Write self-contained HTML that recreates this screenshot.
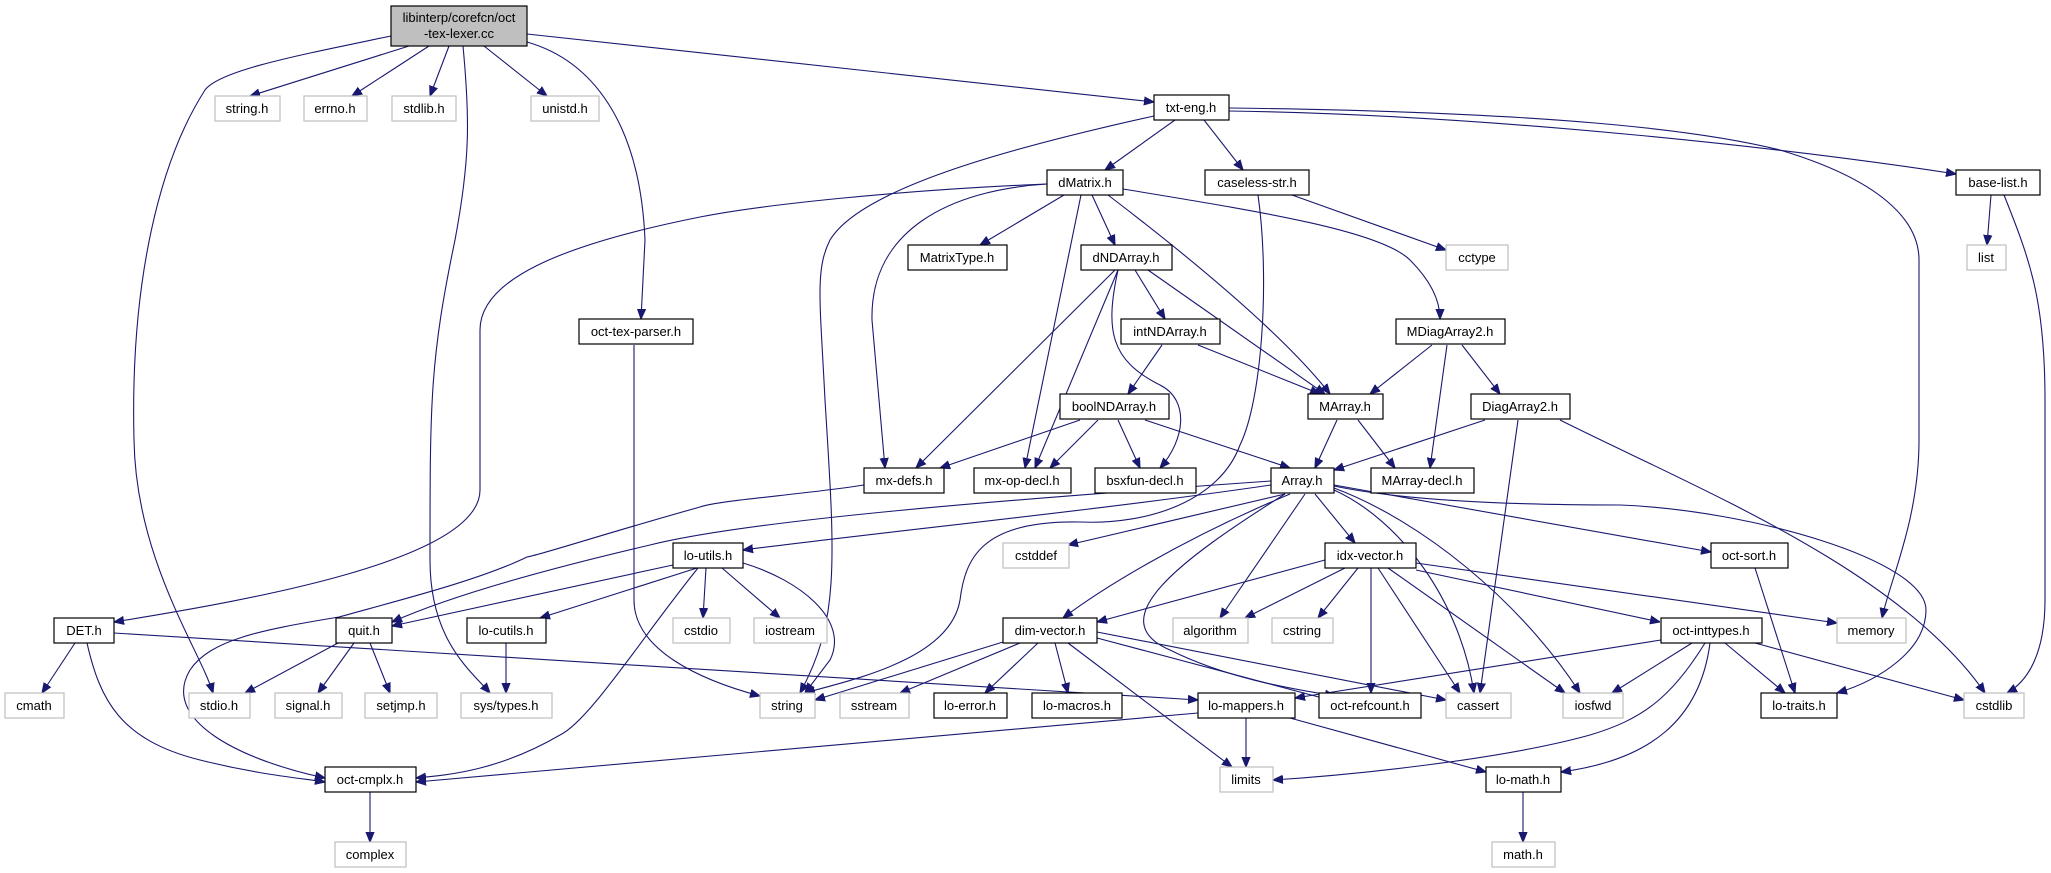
<!DOCTYPE html>
<html><head><meta charset="utf-8"><style>
html,body{margin:0;padding:0;background:#fff;}
svg{display:block;}
text{font-family:"Liberation Sans",sans-serif;font-size:13px;fill:#000;text-anchor:middle;}
.n{fill:#fff;stroke:#000;stroke-width:1.2;}
.e{fill:#fff;stroke:#bfbfbf;stroke-width:1.2;}
path{fill:none;stroke:#191970;stroke-width:1.1;}
</style></head><body>
<svg width="2051" height="873" viewBox="0 0 2051 873" xmlns="http://www.w3.org/2000/svg">
<defs><marker id="a" viewBox="0 0 10 10" refX="10" refY="5" markerWidth="10" markerHeight="10" markerUnits="userSpaceOnUse" orient="auto"><path d="M0,1 L10,5 L0,9 z" style="fill:#191970;stroke:#191970"/></marker></defs>
<g marker-end="url(#a)">
<path d="M409,46 L250,96"/>
<path d="M429,46 L352,96"/>
<path d="M449,46 L430,96"/>
<path d="M484,46 L547,96"/>
<path d="M391,36 C300,55 220,70 205,90 C160,160 130,280 134,440 C136,560 200,650 213,693"/>
<path d="M463,46 C470,120 470,160 455,240 C430,360 430,400 430,560 C430,640 470,670 490,693"/>
<path d="M527,42 C590,60 640,120 645,240 L641,319"/>
<path d="M527,34 L1154,102"/>
<path d="M1175,120 L1105,170"/>
<path d="M1204,120 L1243,170"/>
<path d="M1229,111 C1500,115 1800,150 1956,174"/>
<path d="M1229,108 C1550,112 1700,130 1780,150 C1880,180 1919,220 1919,260 L1919,440 C1919,520 1890,580 1882,618"/>
<path d="M1154,116 C1000,150 860,190 830,240 C815,270 820,300 825,400 C835,560 840,620 800,693"/>
<path d="M1064,195 L980,245"/>
<path d="M1092,195 L1115,245"/>
<path d="M1108,195 C1180,250 1280,330 1330,394"/>
<path d="M1123,189 C1250,210 1380,230 1410,260 C1430,280 1440,300 1440,319"/>
<path d="M1047,184 C950,190 870,230 872,320 L885,468"/>
<path d="M1081,195 L1025,468"/>
<path d="M1047,184 C900,190 760,205 700,217 C560,245 480,280 480,330 L480,490 C480,560 250,600 114,622"/>
<path d="M1292,195 L1446,250"/>
<path d="M1258,195 C1270,280 1262,400 1240,445 C1220,500 1150,525 1080,522 C980,520 965,560 960,600 C950,660 850,680 805,693"/>
<path d="M1991,195 L1987,245"/>
<path d="M2004,195 C2030,260 2045,300 2045,400 L2045,600 C2045,650 2030,680 2007,693"/>
<path d="M1135,270 L1165,319"/>
<path d="M1148,270 C1220,320 1290,370 1325,394"/>
<path d="M1115,270 L916,468"/>
<path d="M1118,270 L1035,468"/>
<path d="M1118,270 C1105,330 1110,360 1160,385 C1190,400 1185,440 1160,468"/>
<path d="M1162,345 L1128,394"/>
<path d="M1198,345 L1320,394"/>
<path d="M1432,345 L1370,394"/>
<path d="M1447,345 L1430,468"/>
<path d="M1462,345 L1500,394"/>
<path d="M1080,420 L940,468"/>
<path d="M1098,420 L1050,468"/>
<path d="M1118,420 L1140,468"/>
<path d="M1145,420 L1290,468"/>
<path d="M1337,420 L1315,468"/>
<path d="M1358,420 L1395,468"/>
<path d="M1485,420 L1334,470"/>
<path d="M1518,420 L1480,693"/>
<path d="M1560,420 C1700,490 1900,570 1985,693"/>
<path d="M864,485 C800,495 720,500 700,507 C600,535 540,555 527,557 C480,580 400,600 339,617 C260,630 210,640 190,670 C160,720 240,760 325,778"/>
<path d="M1271,485 C1100,510 900,530 743,550"/>
<path d="M1271,481 C1000,500 750,520 650,545 C500,580 430,605 392,622"/>
<path d="M1285,494 L1068,545"/>
<path d="M1290,494 C1180,540 1100,590 1063,618"/>
<path d="M1305,494 L1220,618"/>
<path d="M1315,494 L1355,543"/>
<path d="M1285,494 C1180,560 1100,620 1170,650 C1230,680 1300,690 1335,696"/>
<path d="M1334,490 C1400,520 1460,600 1474,693"/>
<path d="M1334,488 C1420,520 1520,600 1580,693"/>
<path d="M1334,485 L1711,552"/>
<path d="M1334,486 C1400,500 1500,505 1620,505 C1750,510 1926,560 1926,610 C1926,650 1880,680 1837,693"/>
<path d="M673,565 L392,626"/>
<path d="M697,568 L540,618"/>
<path d="M706,568 L703,618"/>
<path d="M722,568 L780,618"/>
<path d="M743,563 C800,580 850,620 830,660 L805,693"/>
<path d="M698,568 C640,640 590,720 560,735 C500,770 450,775 416,778"/>
<path d="M338,643 L245,693"/>
<path d="M354,643 L318,693"/>
<path d="M370,643 L390,693"/>
<path d="M506,643 L506,693"/>
<path d="M75,643 L42,693"/>
<path d="M87,643 C100,700 120,740 200,760 C260,775 300,778 325,782"/>
<path d="M114,633 L1198,700"/>
<path d="M370,792 L370,842"/>
<path d="M634,345 L634,600 C634,650 700,680 760,696"/>
<path d="M1325,560 L1097,622"/>
<path d="M1345,568 L1245,618"/>
<path d="M1358,568 L1318,618"/>
<path d="M1371,568 L1371,693"/>
<path d="M1378,568 L1460,693"/>
<path d="M1388,568 L1565,693"/>
<path d="M1416,570 L1660,622"/>
<path d="M1416,563 L1837,623"/>
<path d="M1003,642 L815,700"/>
<path d="M1020,643 L900,693"/>
<path d="M1038,643 L985,693"/>
<path d="M1055,643 L1068,693"/>
<path d="M1068,643 L1232,767"/>
<path d="M1097,638 L1330,700"/>
<path d="M1097,632 L1446,700"/>
<path d="M1246,718 L1246,767"/>
<path d="M1290,718 L1486,772"/>
<path d="M1198,713 L416,782"/>
<path d="M1661,640 L1295,698"/>
<path d="M1692,643 L1612,693"/>
<path d="M1725,643 L1785,693"/>
<path d="M1755,643 L1964,700"/>
<path d="M1705,643 C1670,700 1640,720 1590,735 C1500,760 1350,775 1273,780"/>
<path d="M1710,643 C1700,720 1650,760 1561,772"/>
<path d="M1755,568 L1795,693"/>
<path d="M1523,792 L1523,842"/>
</g>
<g>
<rect x="391" y="6" width="136" height="40" style="fill:#bfbfbf;stroke:#000;stroke-width:1.2"/>
<text x="459" y="22">libinterp/corefcn/oct</text><text x="459" y="38">-tex-lexer.cc</text>
</g>
<g id="nodes">
<rect class="e" x="215" y="96" width="65" height="25"/><text x="247" y="113">string.h</text>
<rect class="e" x="304" y="96" width="63" height="25"/><text x="335" y="113">errno.h</text>
<rect class="e" x="392" y="96" width="64" height="25"/><text x="424" y="113">stdlib.h</text>
<rect class="e" x="531" y="96" width="68" height="25"/><text x="565" y="113">unistd.h</text>
<rect class="n" x="1154" y="95" width="75" height="25"/><text x="1191" y="112">txt-eng.h</text>
<rect class="n" x="1047" y="170" width="76" height="25"/><text x="1085" y="187">dMatrix.h</text>
<rect class="n" x="1205" y="170" width="104" height="25"/><text x="1257" y="187">caseless-str.h</text>
<rect class="n" x="1956" y="170" width="84" height="25"/><text x="1998" y="187">base-list.h</text>
<rect class="n" x="908" y="245" width="99" height="25"/><text x="957" y="262">MatrixType.h</text>
<rect class="n" x="1081" y="245" width="91" height="25"/><text x="1126" y="262">dNDArray.h</text>
<rect class="e" x="1446" y="245" width="62" height="25"/><text x="1477" y="262">cctype</text>
<rect class="e" x="1967" y="245" width="39" height="25"/><text x="1986" y="262">list</text>
<rect class="n" x="579" y="319" width="114" height="25"/><text x="636" y="336">oct-tex-parser.h</text>
<rect class="n" x="1121" y="319" width="99" height="25"/><text x="1170" y="336">intNDArray.h</text>
<rect class="n" x="1396" y="319" width="109" height="25"/><text x="1450" y="336">MDiagArray2.h</text>
<rect class="n" x="1060" y="394" width="109" height="25"/><text x="1114" y="411">boolNDArray.h</text>
<rect class="n" x="1308" y="394" width="75" height="25"/><text x="1345" y="411">MArray.h</text>
<rect class="n" x="1471" y="394" width="99" height="25"/><text x="1520" y="411">DiagArray2.h</text>
<rect class="n" x="864" y="468" width="80" height="25"/><text x="904" y="485">mx-defs.h</text>
<rect class="n" x="974" y="468" width="97" height="25"/><text x="1022" y="485">mx-op-decl.h</text>
<rect class="n" x="1095" y="468" width="101" height="25"/><text x="1145" y="485">bsxfun-decl.h</text>
<rect class="n" x="1271" y="468" width="63" height="25"/><text x="1302" y="485">Array.h</text>
<rect class="n" x="1371" y="468" width="103" height="25"/><text x="1422" y="485">MArray-decl.h</text>
<rect class="n" x="673" y="543" width="70" height="25"/><text x="708" y="560">lo-utils.h</text>
<rect class="e" x="1003" y="543" width="66" height="25"/><text x="1036" y="560">cstddef</text>
<rect class="n" x="1325" y="543" width="91" height="25"/><text x="1370" y="560">idx-vector.h</text>
<rect class="n" x="1711" y="543" width="77" height="25"/><text x="1749" y="560">oct-sort.h</text>
<rect class="n" x="54" y="618" width="60" height="25"/><text x="84" y="635">DET.h</text>
<rect class="n" x="336" y="618" width="56" height="25"/><text x="364" y="635">quit.h</text>
<rect class="n" x="467" y="618" width="79" height="25"/><text x="506" y="635">lo-cutils.h</text>
<rect class="e" x="673" y="618" width="57" height="25"/><text x="701" y="635">cstdio</text>
<rect class="e" x="754" y="618" width="73" height="25"/><text x="790" y="635">iostream</text>
<rect class="n" x="1003" y="618" width="94" height="25"/><text x="1050" y="635">dim-vector.h</text>
<rect class="e" x="1173" y="618" width="75" height="25"/><text x="1210" y="635">algorithm</text>
<rect class="e" x="1272" y="618" width="61" height="25"/><text x="1302" y="635">cstring</text>
<rect class="n" x="1661" y="618" width="101" height="25"/><text x="1711" y="635">oct-inttypes.h</text>
<rect class="e" x="1837" y="618" width="69" height="25"/><text x="1871" y="635">memory</text>
<rect class="e" x="5" y="693" width="59" height="25"/><text x="34" y="710">cmath</text>
<rect class="e" x="189" y="693" width="61" height="25"/><text x="219" y="710">stdio.h</text>
<rect class="e" x="275" y="693" width="67" height="25"/><text x="308" y="710">signal.h</text>
<rect class="e" x="365" y="693" width="72" height="25"/><text x="401" y="710">setjmp.h</text>
<rect class="e" x="461" y="693" width="91" height="25"/><text x="506" y="710">sys/types.h</text>
<rect class="e" x="760" y="693" width="55" height="25"/><text x="787" y="710">string</text>
<rect class="e" x="840" y="693" width="69" height="25"/><text x="874" y="710">sstream</text>
<rect class="n" x="934" y="693" width="73" height="25"/><text x="970" y="710">lo-error.h</text>
<rect class="n" x="1032" y="693" width="90" height="25"/><text x="1077" y="710">lo-macros.h</text>
<rect class="n" x="1198" y="693" width="97" height="25"/><text x="1246" y="710">lo-mappers.h</text>
<rect class="n" x="1319" y="693" width="102" height="25"/><text x="1370" y="710">oct-refcount.h</text>
<rect class="e" x="1446" y="693" width="65" height="25"/><text x="1478" y="710">cassert</text>
<rect class="e" x="1563" y="693" width="60" height="25"/><text x="1593" y="710">iosfwd</text>
<rect class="n" x="1761" y="693" width="76" height="25"/><text x="1799" y="710">lo-traits.h</text>
<rect class="e" x="1964" y="693" width="60" height="25"/><text x="1994" y="710">cstdlib</text>
<rect class="n" x="325" y="767" width="91" height="25"/><text x="370" y="784">oct-cmplx.h</text>
<rect class="e" x="1220" y="767" width="53" height="25"/><text x="1246" y="784">limits</text>
<rect class="n" x="1486" y="767" width="75" height="25"/><text x="1523" y="784">lo-math.h</text>
<rect class="e" x="335" y="842" width="71" height="25"/><text x="370" y="859">complex</text>
<rect class="e" x="1492" y="842" width="63" height="25"/><text x="1523" y="859">math.h</text>
</g>
</svg>
</body></html>
